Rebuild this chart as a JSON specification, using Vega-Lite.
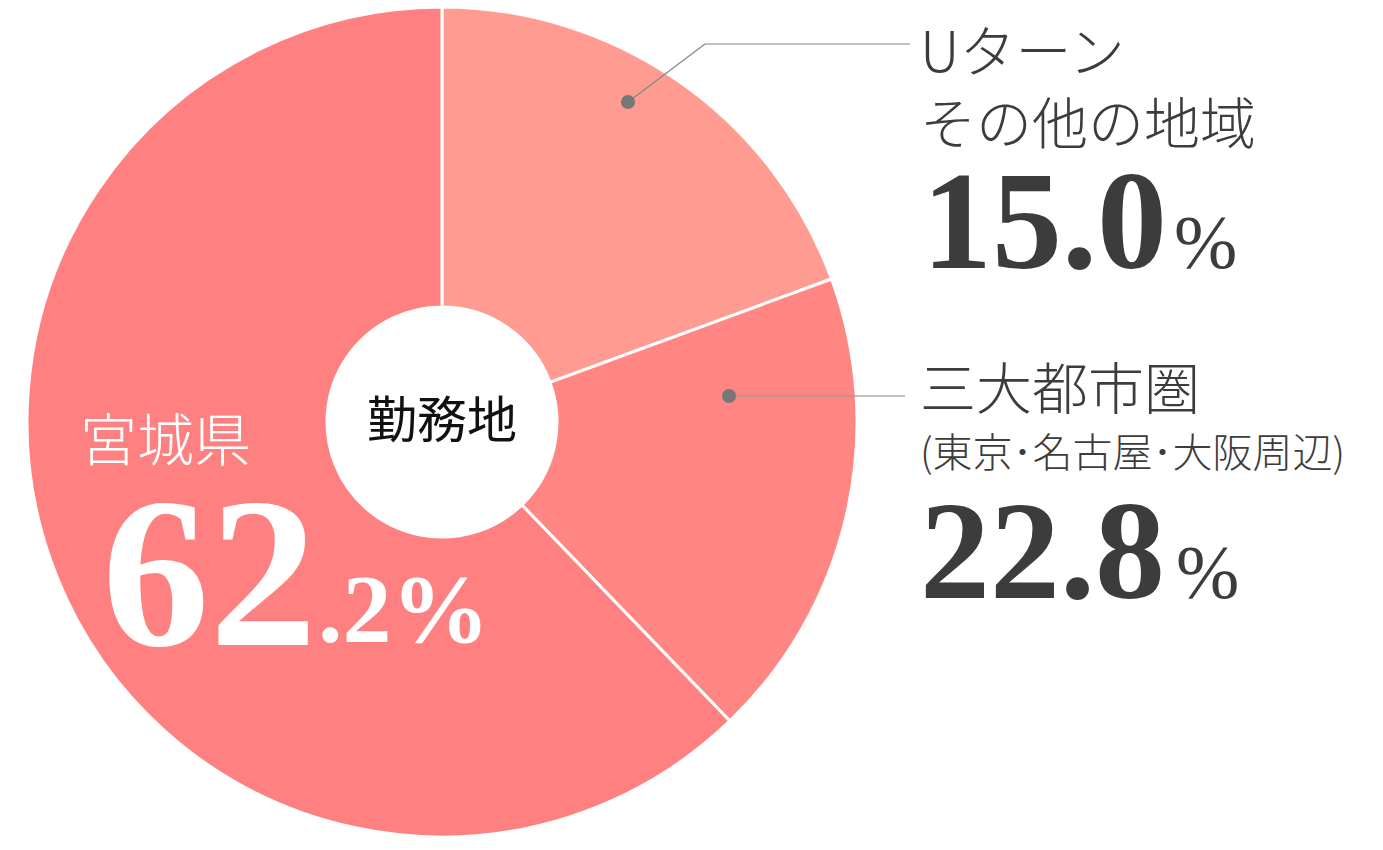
{
  "$schema": "https://vega.github.io/schema/vega-lite/v6.json",
  "autosize": "none",
  "width": 884,
  "height": 844,
  "padding": {"left": 0, "top": 0, "right": 499, "bottom": 6},
  "background": "white",
  "config": {"view": {"stroke": null}},
  "data": {
    "values": [
      {"key": "u", "name": "Uターン\nその他の地域", "sub": "", "value": 15.0, "angle": 19.4, "o": 1},
      {"key": "m", "name": "三大都市圏", "sub": "(東京･名古屋･大阪周辺)", "value": 22.8, "angle": 18.4, "o": 2},
      {"key": "p", "name": "宮城県", "sub": "", "value": 62.2, "angle": 62.2, "o": 3}
    ]
  },
  "layer": [
    {
      "mark": {"type": "arc", "outerRadius": 415, "innerRadius": 115, "stroke": "white", "strokeWidth": 3},
      "encoding": {
        "theta": {"field": "angle", "type": "quantitative", "stack": true},
        "order": {"field": "o", "type": "quantitative"},
        "color": {"field": "key", "type": "nominal", "legend": null,
          "scale": {"domain": ["u", "m", "p"], "range": ["#FF9B91", "#FF8682", "#FF8080"]}}
      }
    },
    {
      "transform": [{"filter": "datum.key === 'u'"}],
      "mark": {"type": "rule", "stroke": "#888888", "strokeWidth": 1.3},
      "encoding": {"x": {"value": 628}, "y": {"value": 102}, "x2": {"value": 705}, "y2": {"value": 44}}
    },
    {
      "transform": [{"filter": "datum.key === 'u'"}],
      "mark": {"type": "rule", "stroke": "#999999", "strokeWidth": 1.6, "opacity": 0.8},
      "encoding": {"x": {"value": 705}, "y": {"value": 44}, "x2": {"value": 910}, "y2": {"value": 44}}
    },
    {
      "transform": [{"filter": "datum.key === 'm'"}],
      "mark": {"type": "rule", "stroke": "#999999", "strokeWidth": 1.6, "opacity": 0.8},
      "encoding": {"x": {"value": 729}, "y": {"value": 396}, "x2": {"value": 905}, "y2": {"value": 396}}
    },
    {
      "transform": [{"filter": "datum.key === 'u'"}],
      "mark": {"type": "point", "filled": true, "size": 200, "color": "#777777", "opacity": 1},
      "encoding": {"x": {"value": 628}, "y": {"value": 102}}
    },
    {
      "transform": [{"filter": "datum.key === 'm'"}],
      "mark": {"type": "point", "filled": true, "size": 200, "color": "#777777", "opacity": 1},
      "encoding": {"x": {"value": 729}, "y": {"value": 396}}
    },
    {
      "transform": [{"filter": "datum.key === 'u'"}],
      "mark": {"type": "text", "x": 920, "y": 72, "align": "left", "baseline": "alphabetic", "lineBreak": "\n", "lineHeight": 72,
        "font": "Noto Sans CJK JP", "fontSize": 56, "fontWeight": 300, "color": "#3c3c3c"},
      "encoding": {"text": {"field": "name"}}
    },
    {
      "transform": [{"filter": "datum.key === 'm'"}],
      "mark": {"type": "text", "x": 920, "y": 409, "align": "left", "baseline": "alphabetic",
        "font": "Noto Sans CJK JP", "fontSize": 56, "fontWeight": 300, "color": "#3c3c3c"},
      "encoding": {"text": {"field": "name"}}
    },
    {
      "transform": [{"filter": "datum.key === 'm'"}],
      "mark": {"type": "text", "x": 920, "y": 467, "align": "left", "baseline": "alphabetic",
        "font": "Noto Sans CJK JP", "fontSize": 40, "fontWeight": 300, "color": "#3c3c3c"},
      "encoding": {"text": {"field": "sub"}}
    },
    {
      "transform": [{"filter": "datum.key === 'u'"}],
      "mark": {"type": "text", "x": 922, "y": 268, "align": "left", "baseline": "alphabetic",
        "font": "Liberation Serif", "fontSize": 140, "fontWeight": "bold", "color": "#3c3c3c"},
      "encoding": {"text": {"field": "value", "type": "quantitative", "format": ".1f"}}
    },
    {
      "transform": [{"filter": "datum.key === 'm'"}],
      "mark": {"type": "text", "x": 920, "y": 598, "align": "left", "baseline": "alphabetic",
        "font": "Liberation Serif", "fontSize": 140, "fontWeight": "bold", "color": "#3c3c3c"},
      "encoding": {"text": {"field": "value", "type": "quantitative", "format": ".1f"}}
    },
    {
      "transform": [{"filter": "datum.key === 'u'"}],
      "mark": {"type": "text", "x": 1174, "y": 268, "align": "left", "baseline": "alphabetic",
        "font": "Liberation Serif", "fontSize": 76, "fontWeight": "normal", "color": "#3c3c3c", "text": "%"}
    },
    {
      "transform": [{"filter": "datum.key === 'm'"}],
      "mark": {"type": "text", "x": 1176, "y": 598, "align": "left", "baseline": "alphabetic",
        "font": "Liberation Serif", "fontSize": 76, "fontWeight": "normal", "color": "#3c3c3c", "text": "%"}
    },
    {
      "transform": [{"filter": "datum.key === 'p'"}],
      "mark": {"type": "text", "x": 80, "y": 461, "align": "left", "baseline": "alphabetic",
        "font": "Noto Sans CJK JP", "fontSize": 57, "fontWeight": 300, "color": "white"},
      "encoding": {"text": {"field": "name"}}
    },
    {
      "transform": [{"filter": "datum.key === 'p'"}],
      "mark": {"type": "text", "x": 102, "y": 645, "align": "left", "baseline": "alphabetic",
        "font": "Liberation Serif", "fontSize": 215, "fontWeight": "bold", "color": "white"},
      "encoding": {"text": {"field": "value", "type": "quantitative", "format": "d"}}
    },
    {
      "transform": [{"filter": "datum.key === 'p'"}],
      "mark": {"type": "text", "x": 318, "y": 642, "align": "left", "baseline": "alphabetic",
        "font": "Liberation Serif", "fontSize": 98, "fontWeight": "bold", "color": "white", "text": ".2%"}
    },
    {
      "transform": [{"filter": "datum.key === 'p'"}],
      "mark": {"type": "text", "x": 442, "y": 438, "align": "center", "baseline": "alphabetic",
        "font": "Noto Sans CJK JP", "fontSize": 50, "fontWeight": 400, "color": "#111111", "text": "勤務地"}
    }
  ]
}
